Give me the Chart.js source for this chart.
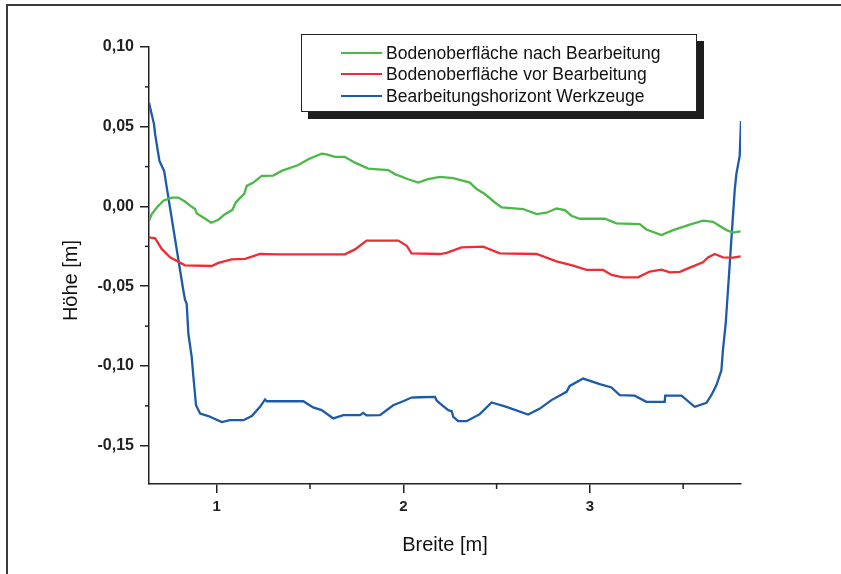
<!DOCTYPE html>
<html>
<head>
<meta charset="utf-8">
<script src="https://cdn.jsdelivr.net/npm/chart.js@4.4.1/dist/chart.umd.min.js"></script>
<style>
  body { margin: 0; background: #fff; font-family: "Liberation Sans", Arial, sans-serif; }
  #wrap { position: relative; width: 841px; height: 574px; overflow: hidden; }
  #frame { position: absolute; left: 6px; top: 4px; width: 900px; height: 700px;
           border-left: 2px solid #3a3a3a; border-top: 2px solid #3a3a3a; }
  #chart { position: absolute; left: 0; top: 0; }
  #legend { position: absolute; left: 301px; top: 34px; width: 394px; height: 76px;
            border: 1px solid #222; background: #fff; box-shadow: 7px 7px 0 #1e1e1e; }
  .row { position: absolute; left: 0; height: 20px; }
  .row span.ln { position: absolute; left: 39px; top: 9px; width: 41px; height: 2px; }
  .row span.tx { position: absolute; left: 84px; top: 0; font-size: 17.5px; line-height: 20px;
                 color: #111; white-space: nowrap; }
</style>
</head>
<body>
<div id="wrap">
  <div id="frame"></div>
  <canvas id="chart" width="841" height="574"></canvas>
  <div id="legend"></div>
</div>
<script>
// Breite [m] / Höhe [m] readings
var labels = ["Bodenoberfläche nach Bearbeitung", "Bodenoberfläche vor Bearbeitung", "Bearbeitungshorizont Werkzeuge"];
var colors = ['#4cb848', '#ee2d33', '#1d5aab'];

var xNach = [0.637, 0.652, 0.679, 0.714, 0.759, 0.794, 0.830, 0.866, 0.884, 0.893, 0.928, 0.970, 1.009, 1.044, 1.084, 1.102,
  1.148, 1.161, 1.196, 1.241, 1.303, 1.348, 1.437, 1.491, 1.562, 1.589, 1.634, 1.687, 1.741, 1.812, 1.919, 1.955,
  2.026, 2.080, 2.133, 2.196, 2.267, 2.357, 2.393, 2.437, 2.491, 2.527, 2.642, 2.714, 2.768, 2.821, 2.866, 2.901,
  2.946, 3.080, 3.142, 3.267, 3.303, 3.384, 3.446, 3.535, 3.606, 3.660, 3.732, 3.767, 3.808];
var yNach = [-0.0089, -0.0048, -0.0006, 0.0036, 0.0056, 0.0056, 0.0031, -0.0002, -0.0016, -0.0044, -0.0069, -0.0102, -0.0083, -0.0048, -0.0021, 0.0025,
  0.0081, 0.0129, 0.0150, 0.0192, 0.0194, 0.0223, 0.0260, 0.0296, 0.0331, 0.0327, 0.0311, 0.0311, 0.0275, 0.0238, 0.0228, 0.0203,
  0.0171, 0.0150, 0.0171, 0.0186, 0.0178, 0.0150, 0.0109, 0.0078, 0.0025, -0.0006, -0.0016, -0.0048, -0.0039, -0.0013, -0.0023, -0.0058,
  -0.0077, -0.0077, -0.0106, -0.0110, -0.0144, -0.0179, -0.0148, -0.0114, -0.0089, -0.0096, -0.0148, -0.0164, -0.0156];

var xVor = [0.637, 0.670, 0.705, 0.750, 0.830, 0.973, 1.009, 1.080, 1.152, 1.232, 1.330, 1.687, 1.741, 1.803, 1.973, 2.018,
  2.044, 2.196, 2.232, 2.312, 2.428, 2.517, 2.714, 2.821, 2.910, 2.982, 3.071, 3.116, 3.178, 3.258, 3.321, 3.384,
  3.428, 3.482, 3.526, 3.606, 3.633, 3.669, 3.713, 3.767, 3.808];
var yVor = [-0.0194, -0.0200, -0.0266, -0.0319, -0.0369, -0.0373, -0.0354, -0.0331, -0.0329, -0.0298, -0.0300, -0.0300, -0.0269, -0.0214, -0.0214, -0.0246,
  -0.0294, -0.0298, -0.0291, -0.0256, -0.0252, -0.0294, -0.0298, -0.0344, -0.0371, -0.0398, -0.0398, -0.0429, -0.0444, -0.0444, -0.0408, -0.0396,
  -0.0413, -0.0410, -0.0388, -0.0350, -0.0319, -0.0298, -0.0319, -0.0321, -0.0313];

var xWerkzeug = [0.637, 0.664, 0.670, 0.693, 0.718, 0.728, 0.821, 0.830, 0.839, 0.848, 0.866, 0.875, 0.889, 0.911, 0.955, 1.027,
  1.071, 1.143, 1.188, 1.232, 1.259, 1.268, 1.464, 1.517, 1.562, 1.625, 1.679, 1.768, 1.785, 1.803, 1.875, 1.946,
  1.999, 2.044, 2.089, 2.170, 2.178, 2.196, 2.241, 2.259, 2.268, 2.294, 2.339, 2.410, 2.473, 2.553, 2.669, 2.732,
  2.794, 2.875, 2.892, 2.964, 3.053, 3.116, 3.160, 3.240, 3.303, 3.401, 3.404, 3.491, 3.562, 3.625, 3.651, 3.678,
  3.705, 3.713, 3.728, 3.740, 3.758, 3.776, 3.785, 3.803, 3.806, 3.810];
var yWerkzeug = [0.0650, 0.0515, 0.0452, 0.0286, 0.0223, 0.0150, -0.0527, -0.0585, -0.0610, -0.0798, -0.0944, -0.1069, -0.1246, -0.1298, -0.1314, -0.1352,
  -0.1340, -0.1340, -0.1314, -0.1256, -0.1210, -0.1221, -0.1221, -0.1260, -0.1277, -0.1329, -0.1308, -0.1308, -0.1294, -0.1310, -0.1308, -0.1246,
  -0.1221, -0.1198, -0.1196, -0.1194, -0.1215, -0.1235, -0.1277, -0.1283, -0.1319, -0.1346, -0.1346, -0.1302, -0.1229, -0.1256, -0.1304, -0.1267,
  -0.1214, -0.1162, -0.1125, -0.1079, -0.1114, -0.1135, -0.1183, -0.1186, -0.1225, -0.1225, -0.1186, -0.1186, -0.1256, -0.1231, -0.1183, -0.1121,
  -0.1027, -0.0902, -0.0735, -0.0527, -0.0214, 0.0098, 0.0203, 0.0317, 0.0411, 0.0536];

// axis ticks
var xMajor = [1, 2, 3];
var xMinor = [1.5, 2.5, 3.5];
var yMajor = [0.10, 0.05, 0.00, -0.05, -0.10, -0.15];
var yMinor = [0.075, 0.025, -0.025, -0.075, -0.125];
var yTitle = 'Höhe [m]';

function pts(xs, ys) {
  var out = [];
  for (var i = 0; i < xs.length; i++) out.push({ x: xs[i], y: ys[i] });
  return out;
}

function isMajor(list, v) {
  for (var i = 0; i < list.length; i++) if (Math.abs(list[i] - v) < 1e-6) return true;
  return false;
}

// legend (html, real text)
var leg = document.getElementById('legend');
var rowTop = [8, 29, 51];
for (var i = 0; i < labels.length; i++) {
  var r = document.createElement('div');
  r.className = 'row';
  r.style.top = rowTop[i] + 'px';
  r.innerHTML = '<span class="ln" style="background:' + colors[i] + '"></span><span class="tx">' + labels[i] + '</span>';
  leg.appendChild(r);
}

// short minor ticks + y title (sits a bit below the middle in the original)
var extras = {
  id: 'extras',
  afterDraw: function (chart) {
    var ctx = chart.ctx;
    var xs = chart.scales.x, ys = chart.scales.y;
    ctx.save();
    ctx.strokeStyle = '#222';
    ctx.lineWidth = 1.5;
    xMinor.forEach(function (v) {
      var px = xs.getPixelForValue(v);
      ctx.beginPath(); ctx.moveTo(px, ys.bottom); ctx.lineTo(px, ys.bottom + 5); ctx.stroke();
    });
    yMinor.forEach(function (v) {
      var py = ys.getPixelForValue(v);
      ctx.beginPath(); ctx.moveTo(xs.left, py); ctx.lineTo(xs.left - 4, py); ctx.stroke();
    });
    ctx.translate(71, (ys.top + ys.bottom) / 2 + 15);
    ctx.rotate(-Math.PI / 2);
    ctx.fillStyle = '#111';
    ctx.font = '20px "Liberation Sans"';
    ctx.textAlign = 'center';
    ctx.textBaseline = 'middle';
    ctx.fillText(yTitle, 0, 0);
    ctx.restore();
  }
};

var ds = [pts(xNach, yNach), pts(xVor, yVor), pts(xWerkzeug, yWerkzeug)];

var ctx = document.getElementById('chart').getContext('2d');
var chart = new Chart(ctx, {
  type: 'line',
  data: {
    datasets: ds.map(function (d, i) {
      return { label: labels[i], data: d, borderColor: colors[i], backgroundColor: colors[i],
               borderWidth: 2.3, pointRadius: 0, tension: 0, fill: false };
    })
  },
  options: {
    responsive: false,
    animation: false,
    layout: { padding: { top: 47, right: 100, left: 0, bottom: 0 } },
    plugins: { legend: { display: false }, tooltip: { enabled: false } },
    scales: {
      x: {
        type: 'linear',
        min: 0.637, max: 3.81,
        afterFit: function (s) { s.height = 90; },
        border: { display: true, color: '#222', width: 1.5 },
        grid: { drawOnChartArea: false, drawTicks: true, tickLength: 9, lineWidth: 1.5,
                tickColor: function (c) { return c.tick && isMajor(xMajor, c.tick.value) ? '#222' : 'rgba(0,0,0,0)'; } },
        ticks: {
          stepSize: 0.5, includeBounds: false, autoSkip: false, maxRotation: 0, padding: 5,
          color: '#222', font: { family: 'Liberation Sans', size: 15, weight: 'bold' },
          callback: function (v) { return isMajor(xMajor, v) ? String(Math.round(v)) : ''; }
        },
        title: { display: true, text: 'Breite [m]', color: '#111', padding: { top: 0, bottom: 17 },
                 font: { family: 'Liberation Sans', size: 20 } }
      },
      y: {
        min: -0.174, max: 0.10,
        afterFit: function (s) { s.width = 149; },
        border: { display: true, color: '#222', width: 1.5 },
        grid: { drawOnChartArea: false, drawTicks: true, tickLength: 9, lineWidth: 1.5,
                tickColor: function (c) { return c.tick && isMajor(yMajor, c.tick.value) ? '#222' : 'rgba(0,0,0,0)'; } },
        ticks: {
          stepSize: 0.025, includeBounds: false, autoSkip: false, padding: 6,
          color: '#222', font: { family: 'Liberation Sans', size: 16, weight: 'bold' },
          callback: function (v) { return isMajor(yMajor, v) ? v.toFixed(2).replace('.', ',') : ''; }
        },
        title: { display: false }
      }
    }
  },
  plugins: [extras]
});
</script>
</body>
</html>
